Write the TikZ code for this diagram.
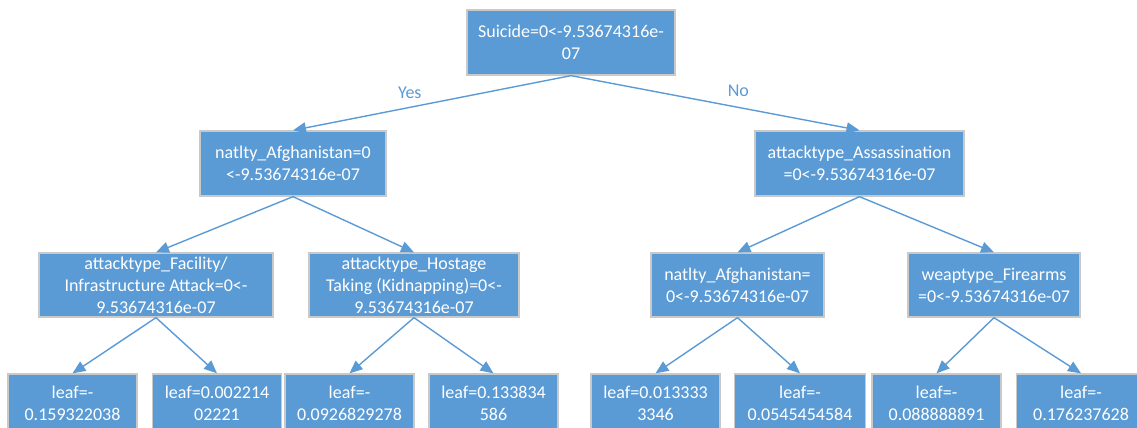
\documentclass[tikz,border=0pt]{standalone}
\usepackage{fontspec}
\setmainfont{Carlito}
\usepackage{tikz}
\usetikzlibrary{arrows.meta}
\definecolor{boxblue}{HTML}{5B9BD5}
\definecolor{boxline}{HTML}{C9C9C9}
\tikzset{
  split/.style={draw=boxline,line width=1.3pt,fill=boxblue,text=white,align=center,
    inner sep=0pt,minimum height=65pt,font=\fontsize{18}{22}\selectfont},
  leafbox/.style={split,minimum width=129pt,minimum height=58pt},
  edge/.style={boxblue,line width=1.4pt,-{Triangle[length=13pt,width=11pt]}},
  answer/.style={text=boxblue,font=\fontsize{18}{22}\selectfont,anchor=center}
}

\begin{document}
\begin{tikzpicture}[x=1pt,y=-1pt]
  \useasboundingbox (0,0) rectangle (1137,428);

  % root and first split
  \node[split,minimum width=208pt] (root) at (571,42.5) {Suicide=0<-9.53674316e-\\07};
  \node[split,minimum width=186pt] (nat) at (293,163.5) {natlty\_Afghanistan=0\\<-9.53674316e-07};
  \node[split,minimum width=209pt] (ass) at (859.5,163.5) {attacktype\_Assassination\\=0<-9.53674316e-07};

  % second split
  \node[split,minimum width=234pt,minimum height=64pt] (fac) at (156,285) {attacktype\_Facility/\\Infrastructure Attack=0<-\\9.53674316e-07};
  \node[split,minimum width=210pt,minimum height=64pt] (hos) at (414,285) {attacktype\_Hostage\\Taking (Kidnapping)=0<-\\9.53674316e-07};
  \node[split,minimum width=173pt,minimum height=64pt] (natb) at (737.5,285) {natlty\_Afghanistan=\\0<-9.53674316e-07};
  \node[split,minimum width=172pt,minimum height=64pt] (fir) at (994,285) {weaptype\_Firearms\\=0<-9.53674316e-07};

  % leaves
  \node[leafbox] (la) at (72.5,403) {leaf=-\\0.159322038};
  \node[leafbox] (lb) at (217,403) {leaf=0.002214\\02221};
  \node[leafbox] (lc) at (349.5,403) {leaf=-\\0.0926829278};
  \node[leafbox] (ld) at (493.5,403) {leaf=0.133834\\586};
  \node[leafbox] (le) at (655.5,403) {leaf=0.013333\\3346};
  \node[leafbox,minimum width=131pt] (lf) at (800,403) {leaf=-\\0.0545454584};
  \node[leafbox] (lg) at (936.5,403) {leaf=-\\0.088888891};
  \node[leafbox] (lh) at (1081,403) {leaf=-\\0.176237628};

  \draw[edge] (root.south) -- (nat.north) node[answer,pos=0.58,yshift=15pt] {Yes};
  \draw[edge] (root.south) -- (ass.north) node[answer,pos=0.58,yshift=17pt] {No};

  \foreach \a/\b in {nat/fac,nat/hos,ass/natb,ass/fir,
                     fac/la,fac/lb,hos/lc,hos/ld,natb/le,natb/lf,fir/lg,fir/lh}{
    \draw[edge] (\a.south) -- (\b.north);
  }
\end{tikzpicture}
\end{document}
